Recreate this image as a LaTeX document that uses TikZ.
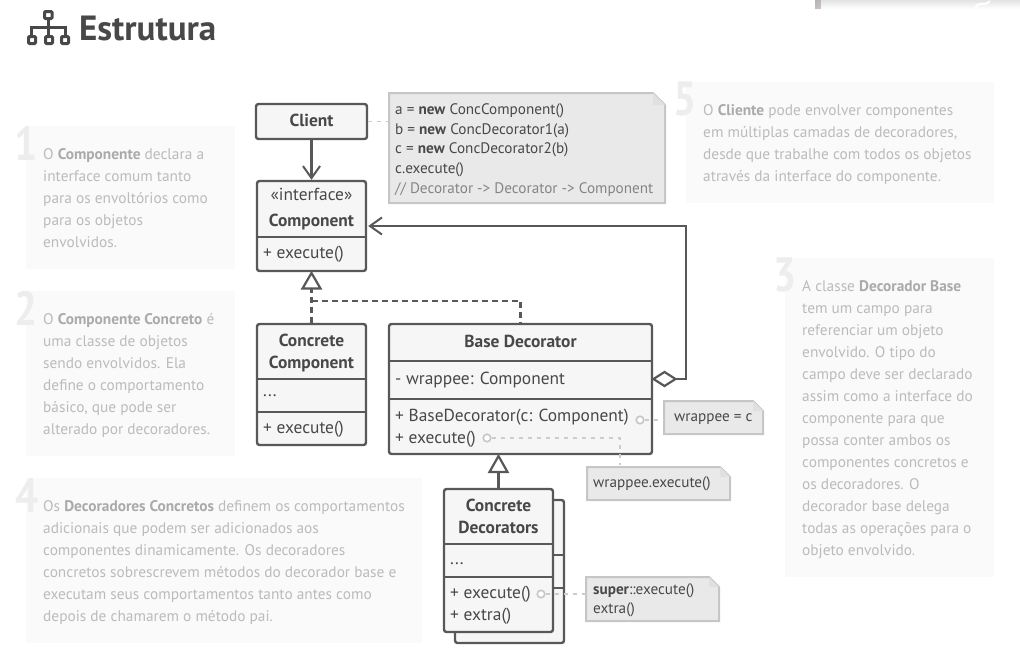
\documentclass[tikz,border=0pt]{standalone}
\usepackage{fontspec}
\setmainfont{PT Sans}
\usetikzlibrary{arrows.meta}

\definecolor{inkdark}{HTML}{484848}
\definecolor{umlline}{HTML}{585858}
\definecolor{umlfill}{HTML}{F6F6F6}
\definecolor{notefill}{HTML}{E9E9E9}
\definecolor{noteline}{HTML}{C6C6C6}
\definecolor{notelink}{HTML}{CCCCCC}
\definecolor{panelfill}{HTML}{FAFAFA}
\definecolor{paneltext}{HTML}{BBBBBB}
\definecolor{panelbold}{HTML}{AAAAAA}
\definecolor{panelnum}{HTML}{EDEDED}

\tikzset{
  umlbox/.style={draw=umlline, fill=umlfill, line width=2.4pt, rounded corners=2.5pt, inner sep=0pt},
  divider/.style={draw=umlline, line width=2.4pt},
  classname/.style={text=inkdark, align=center, font=\fontsize{17.4}{22}\selectfont},
  member/.style={text=inkdark, anchor=west, inner sep=0pt, align=left, font=\fontsize{17.4}{22}\selectfont},
  notepaper/.style={draw=noteline, fill=notefill, line width=2pt, line join=miter},
  notetext/.style={text=inkdark, anchor=north west, inner sep=0pt, align=left, font=\fontsize{15.2}{19.7}\selectfont},
  noteanchor/.style={inner sep=0pt, anchor=north west},
  notelinkline/.style={draw=notelink, line width=1.6pt, dash pattern=on 4pt off 5pt},
  linkdot/.style={circle, draw=noteline, fill=white, line width=1.6pt, minimum size=7.5pt, inner sep=0pt},
  assoc/.style={draw=umlline, line width=2.2pt, -{Straight Barb[length=12pt,width=17pt,line width=2pt]}},
  realize/.style={draw=umlline, line width=2.2pt, dash pattern=on 6pt off 4pt},
  panel/.style={fill=panelfill, draw=none, inner sep=0pt, anchor=north west},
  paneltxt/.style={text=paneltext, anchor=north west, inner sep=0pt, align=left, font=\fontsize{15.35}{22}\selectfont},
  panelno/.style={text=panelnum, anchor=north east, inner sep=0pt, font=\fontsize{48}{48}\selectfont\bfseries},
}
\newcommand{\hl}[1]{\textcolor{panelbold}{\textbf{#1}}}
\newcommand{\narrowno}[1]{\scalebox{.85}[1]{#1}}

\begin{document}
\begin{tikzpicture}[x=1pt,y=-1pt]
\useasboundingbox (0,0) rectangle (1020,670);

% strip at the top edge
\fill[top color=black!11, bottom color=white] (815,0) rectangle (1020,9);
\fill[left color=red!12, right color=red!0, opacity=.3] (815,0) rectangle (821,9);
\draw[white, line width=2pt] (975,7) .. controls (980,1) and (984,7) .. (990,1);

% title
\foreach \xa in {28.5,45.5,61.5} \draw[inkdark, line width=3pt, rounded corners=1pt] (\xa,36.5) rectangle ++(7,7);
\draw[inkdark, line width=3pt, rounded corners=1pt] (44.5,11.5) rectangle (52,18.5);
\draw[inkdark, line width=3pt] (48.5,18.5) -- (48.5,35) (31.5,35) -- (31.5,27.5) -- (65,27.5) -- (65,35);
\node[anchor=west, inner sep=0pt, text=inkdark, font=\fontsize{35}{35}\selectfont\bfseries] (title) at (79,28) {Estrutura};

% text panels
\node[panel, minimum width=209pt, minimum height=143pt] (panelA) at (26,126) {};
\node[panelno] (noA) at (38,126) {\narrowno{1}};
\node[paneltxt] (txtA) at (43,148) {O \hl{Componente} declara a\\interface comum tanto\\para os envoltórios como\\para os objetos\\envolvidos.};

\node[panel, minimum width=209pt, minimum height=165pt] (panelB) at (26,291) {};
\node[panelno] (noB) at (38,291) {\narrowno{2}};
\node[paneltxt] (txtB) at (43,313) {O \hl{Componente Concreto} é\\uma classe de objetos\\sendo envolvidos. Ela\\define o comportamento\\básico, que pode ser\\alterado por decoradores.};

\node[panel, minimum width=396pt, minimum height=165pt] (panelD) at (26,478) {};
\node[panelno] (noD) at (39,478) {\narrowno{4}};
\node[paneltxt] (txtD) at (43,500) {Os \hl{Decoradores Concretos} definem os comportamentos\\adicionais que podem ser adicionados aos\\componentes dinamicamente. Os decoradores\\concretos sobrescrevem métodos do decorador base e\\executam seus comportamentos tanto antes como\\depois de chamarem o método pai.};

\node[panel, minimum width=308pt, minimum height=121pt] (panelE) at (686,82) {};
\node[panelno] (noE) at (697,82) {\narrowno{5}};
\node[paneltxt] (txtE) at (703,104) {O \hl{Cliente} pode envolver componentes\\em múltiplas camadas de decoradores,\\desde que trabalhe com todos os objetos\\através da interface do componente.};

\node[panel, minimum width=209pt, minimum height=319pt] (panelC) at (785,258) {};
\node[panelno] (noC) at (797,258) {\narrowno{3}};
\node[paneltxt] (txtC) at (802,280) {A classe \hl{Decorador Base}\\tem um campo para\\referenciar um objeto\\envolvido. O tipo do\\campo deve ser declarado\\assim como a interface do\\componente para que\\possa conter ambos os\\componentes concretos e\\os decoradores. O\\decorador base delega\\todas as operações para o\\objeto envolvido.};

% notes
\foreach \xa/\ya/\xb/\yb/\f in {389/93/665/203/12, 664/401/763/434/10, 587/467/730/500/10, 586/577/719/621/10} {
  \draw[notepaper] (\xa,\ya) -- (\xb-\f,\ya) -- (\xb,\ya+\f) -- (\xb,\yb) -- (\xa,\yb) -- cycle;
  \fill[noteline!55!white] (\xb-\f,\ya) -- (\xb,\ya+\f) -- (\xb-\f,\ya+\f) -- cycle;
}
\node[noteanchor, minimum width=276pt, minimum height=110pt] (codenote) at (389,93) {};
\node[noteanchor, minimum width=99pt, minimum height=33pt] (wrapnote) at (664,401) {};
\node[noteanchor, minimum width=143pt, minimum height=33pt] (execnote) at (587,467) {};
\node[noteanchor, minimum width=133pt, minimum height=44pt] (supernote) at (586,577) {};
\node[notetext] (codetext) at (395,103.5) {a = \textbf{new} ConcComponent()\\b = \textbf{new} ConcDecorator1(a)\\c = \textbf{new} ConcDecorator2(b)\\c.execute()\\\textcolor{black!48}{// Decorator -> Decorator -> Component}};
\node[notetext] (wraptext) at (674,414) {wrappee = c};
\node[notetext] (exectext) at (593,476) {wrappee.execute()};
\node[notetext] (supertext) at (593,583) {\textbf{super}::execute()\\extra()};

% client
\node[umlbox, minimum width=111pt, minimum height=35pt] (client) at (311.5,121.5) {};
\node[classname] (clientname) at (311.5,120) {\textbf{Client}};

% component
\node[umlbox, minimum width=109pt, minimum height=90pt] (component) at (311.5,226) {};
\node[classname] (componentname) at (311.5,209.5) {«interface»\\[4pt]\textbf{Component}};
\draw[divider] (257,237) -- (366,237);
\node[member] (componentops) at (263,254) {+ execute()};

% concrete component
\node[umlbox, minimum width=109pt, minimum height=121pt] (concomp) at (311.5,384.5) {};
\node[classname] (concompname) at (311.5,353) {\textbf{Concrete}\\\textbf{Component}};
\draw[divider] (257,379) -- (366,379);
\draw[divider] (257,412) -- (366,412);
\node[member] (concompattr) at (263,396) {...};
\node[member] (concompops) at (263,429) {+ execute()};

% base decorator
\node[umlbox, minimum width=263pt, minimum height=130pt] (basedec) at (520.5,389) {};
\node[classname] (basedecname) at (520.5,341) {\textbf{Base Decorator}};
\draw[divider] (389,361) -- (652,361);
\draw[divider] (389,399) -- (652,399);
\node[member] (basedecattr) at (395,380) {- wrappee: Component};
\node[member] (basedecops) at (395,428) {+ BaseDecorator(c: Component)\\+ execute()};
\node[linkdot] (wrapdot) at (640,420) {};
\node[linkdot] (execdot) at (487,438) {};
\coordinate (execend) at (620,465);
\coordinate (aggr) at (653.5,379);

% concrete decorators, the one behind first
\node[umlbox, minimum width=109pt, minimum height=143pt] (condecback) at (509.5,571.5) {};
\draw[divider] (553,555) -- (564,555);
\draw[divider] (553,588) -- (564,588);
\node[umlbox, minimum width=109pt, minimum height=143pt] (condec) at (498.5,560.5) {};
\node[classname] (condecname) at (498.5,516) {\textbf{Concrete}\\\textbf{Decorators}};
\draw[divider] (444,544) -- (553,544);
\draw[divider] (444,577) -- (553,577);
\node[member] (condecattr) at (450,564) {...};
\node[member] (condecops) at (450,605) {+ execute()\\+ extra()};
\node[linkdot] (superdot) at (541,594) {};

% connectors
\draw[assoc] (client.south) -- (component.north);
\draw[assoc, -] (aggr) -- ++(32.5,0) |- ([xshift=9pt]component.east);
\draw[assoc] ([xshift=10pt]component.east) -- ([xshift=1pt]component.east);
\draw[draw=umlline, line width=2.2pt, fill=white] (aggr) -- ++(11,-7) -- ++(11,7) -- ++(-11,7) -- cycle;
\draw[realize] (concomp.north) -- (concomp.north |- 0,288);
\draw[realize] (concomp.north |- 0,301) -- (520.5,301) -- (basedec.north);
\draw[draw=umlline, line width=2.2pt, fill=white, line join=miter] (311.5,273) -- (320.5,288.5) -- (302.5,288.5) -- cycle;
\draw[umlline, line width=2.2pt] (condec.north) -- (condec.north |- 0,472);
\draw[draw=umlline, line width=2.2pt, fill=white, line join=miter] (498.5,456) -- (507.5,472) -- (489.5,472) -- cycle;
\draw[notelinkline] (client.east) -- (client.east -| codenote.west);
\draw[notelinkline] (wrapdot) -- (wrapdot -| wrapnote.west);
\draw[notelinkline] (execdot) -| (execend);
\draw[notelinkline] (superdot) -- (superdot -| supernote.west);

\end{tikzpicture}
\end{document}
